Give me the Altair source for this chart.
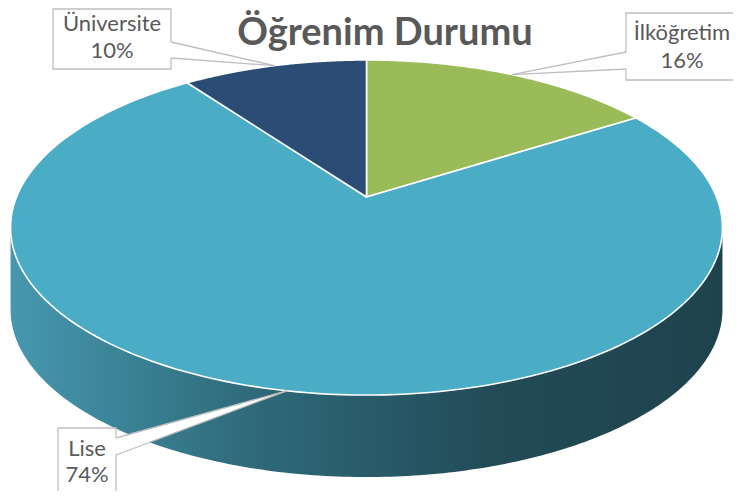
import math
import altair as alt
import pandas as pd

# ---------------- data ----------------
categories = ["İlköğretim", "Lise", "Üniversite"]
values = [16, 74, 10]
colors = ["#9BBB59", "#4BACC6", "#2B4C74"]
title_text = "Öğrenim Durumu"

# ---------------- layout (page pixels) ----------------
PAGE_W, PAGE_H = 741, 499
M = 8
W, H = PAGE_W - 2 * M, PAGE_H - 2 * M
CX, CY = 366.5, 197.0      # projected pie centre
A, B = 350.0, 162.0        # horizontal / vertical radius
P = 5.49                   # perspective distance
DEPTH = 82.0               # thickness of the pie
N = 180                    # points per slice outline
NS = 200                   # points along the side band
TH_R = math.acos(-1.0 / P)
TH_L = 2 * math.pi - TH_R

label_layout = {
    "bx0": [626, 58, 53],
    "bx1": [745, 116, 171],
    "by0": [13, 428, 9],
    "by1": [80, 512, 69],
    "ex": [626, 116, 171],
    "ey0": [52, 438, 42],
    "ey1": [69, 455, 58],
    "tx": [682, 87, 112],
    "ty0": [40, 456, 31],
    "ty1": [68, 482, 58],
}

TEXT_COLOR = "#595959"
LINE_COLOR = "#BFBFBF"
FONT = "Lato"

slices = pd.DataFrame({"category": categories, "value": values,
                       "idx": list(range(len(categories)))})
df = slices.merge(pd.DataFrame({"category": categories, **label_layout}), on="category")


def px_expr(t):
    return f"{CX} + {A}*sin({t})*({P}/({P}+cos({t})))"


def py_expr(t):
    return f"{CY} - {B}*cos({t})*({P}/({P}+cos({t})))"


xs = alt.Scale(domain=[M, M + W], nice=False, zero=False)
ys = alt.Scale(domain=[M, M + H], reverse=True, nice=False, zero=False)


def X(f):
    return alt.X(f"{f}:Q", scale=xs, axis=None)


def Y(f):
    return alt.Y(f"{f}:Q", scale=ys, axis=None)


base = (
    alt.Chart(df)
    .transform_joinaggregate(total="sum(value)")
    .transform_window(cum="sum(value)", sort=[alt.SortField("idx")], frame=[None, 0])
    .transform_calculate(a0="2*PI*(datum.cum - datum.value)/datum.total")
    .transform_calculate(a1="2*PI*datum.cum/datum.total")
    .transform_calculate(am="(datum.a0 + datum.a1)/2")
    .transform_calculate(pct="format(datum.value/datum.total, '.0%')")
    .transform_calculate(tipx=px_expr("datum.am"))
    .transform_calculate(tipy=py_expr("datum.am"))
)

# side band (front rim of the pie)
side = (
    alt.Chart(alt.sequence(0, NS + 1, 1, as_="k"))
    .transform_calculate(t=f"{TH_R} + ({TH_L - TH_R})*datum.k/{NS}")
    .transform_calculate(px=px_expr("datum.t"))
    .transform_calculate(pyt=py_expr("datum.t"))
    .transform_calculate(pyb=f"datum.pyt + {DEPTH}")
    .mark_area(
        orient="vertical",
        color=alt.LinearGradient(
            gradient="linear",
            stops=[
                alt.GradientStop(color="#4698AF", offset=0),
                alt.GradientStop(color="#2F6B7B", offset=0.33),
                alt.GradientStop(color="#224B57", offset=0.68),
                alt.GradientStop(color="#1E434D", offset=1),
            ],
            x1=0, x2=1, y1=0, y2=0,
        ),
    )
    .encode(x=X("px"), y=Y("pyt"), y2=alt.Y2("pyb:Q"))
)

# top face slices
top = (
    base.transform_calculate(steps=f"sequence(-1, {N + 1})")
    .transform_flatten(["steps"], as_=["k"])
    .transform_calculate(t=f"datum.a0 + (datum.a1 - datum.a0)*max(datum.k, 0)/{N}")
    .transform_calculate(px=f"datum.k < 0 ? {CX} : " + px_expr("datum.t"))
    .transform_calculate(py=f"datum.k < 0 ? {CY} : " + py_expr("datum.t"))
    .mark_line(filled=True, interpolate="linear-closed", stroke="white",
               strokeWidth=1.6, strokeJoin="round")
    .encode(
        x=X("px"),
        y=Y("py"),
        color=alt.Color("category:N", scale=alt.Scale(domain=categories, range=colors), legend=None),
        order=alt.Order("k:Q"),
    )
)

# callout boxes
boxes = (
    alt.Chart(df)
    .mark_rect(fill="white", stroke=LINE_COLOR, strokeWidth=1.3)
    .encode(x=X("bx0"), x2=alt.X2("bx1:Q"), y=Y("by0"), y2=alt.Y2("by1:Q"))
)

ptr_fill = (
    base.transform_calculate(steps="[0, 1]")
    .transform_flatten(["steps"], as_=["k"])
    .transform_calculate(ax="datum.k == 0 ? datum.ex + (datum.tipx > datum.ex ? -1.5 : 1.5) : datum.tipx")
    .transform_calculate(ay="datum.k == 0 ? datum.ey0 : datum.tipy")
    .transform_calculate(ay2="datum.k == 0 ? datum.ey1 : datum.tipy")
    .mark_area(orient="vertical", fill="white")
    .encode(x=X("ax"), y=Y("ay"), y2=alt.Y2("ay2:Q"), detail="category:N")
)

rule1 = base.mark_rule(color=LINE_COLOR, strokeWidth=1.3).encode(
    x=X("ex"), y=Y("ey0"), x2=alt.X2("tipx:Q"), y2=alt.Y2("tipy:Q"))
rule2 = base.mark_rule(color=LINE_COLOR, strokeWidth=1.3).encode(
    x=X("ex"), y=Y("ey1"), x2=alt.X2("tipx:Q"), y2=alt.Y2("tipy:Q"))

name_text = base.mark_text(font=FONT, fontSize=22, color=TEXT_COLOR, align="center",
                           baseline="alphabetic").encode(x=X("tx"), y=Y("ty0"), text="category:N")
pct_text = base.mark_text(font=FONT, fontSize=22, color=TEXT_COLOR, align="center",
                          baseline="alphabetic").encode(x=X("tx"), y=Y("ty1"), text="pct:N")

title = (
    alt.Chart(pd.DataFrame({"title": [title_text]}))
    .mark_text(font=FONT, fontSize=38, fontWeight="bold", color=TEXT_COLOR,
               align="center", baseline="alphabetic")
    .encode(x=alt.value(385 - M), y=alt.value(45 - M), text="title:N")
)

chart = (
    alt.layer(side, top, boxes, ptr_fill, rule1, rule2, name_text, pct_text, title)
    .properties(width=W, height=H, padding=0,
                autosize=alt.AutoSizeParams(type="none"), background="white")
    .configure_view(stroke=None)
)

chart.save("out.html", embed_options={"renderer": "svg", "actions": False})
